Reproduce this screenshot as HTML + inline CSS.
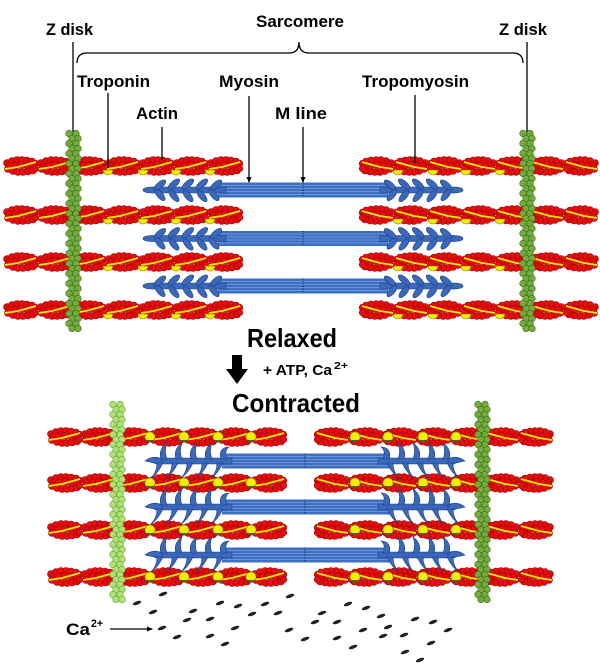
<!DOCTYPE html>
<html><head><meta charset="utf-8"><style>
html,body{margin:0;padding:0;background:#fff;}
svg{display:block;}
text{font-family:"Liberation Sans",sans-serif;font-weight:bold;fill:#000;}
</style></head><body>
<svg width="600" height="664" viewBox="0 0 600 664" xmlns="http://www.w3.org/2000/svg">
<defs>
<!-- actin segment (34 wide, centred y=0) -->
<g id="seg">
 <g fill="#e60d0d" stroke="#990000" stroke-width="0.6">
  <circle cx="3" cy="-3" r="3.5"/><circle cx="8" cy="-5" r="3.5"/><circle cx="13" cy="-6" r="3.5"/><circle cx="18" cy="-6" r="3.5"/><circle cx="23" cy="-5.5" r="3.5"/><circle cx="28" cy="-4.5" r="3.5"/><circle cx="31.5" cy="-2.5" r="3.3"/>
  <circle cx="5" cy="0" r="3.5"/><circle cx="11" cy="-0.5" r="3.5"/><circle cx="17" cy="-1" r="3.5"/><circle cx="23" cy="-0.5" r="3.5"/><circle cx="29" cy="0" r="3.5"/>
  <circle cx="4" cy="3" r="3.5"/><circle cx="9" cy="5" r="3.5"/><circle cx="14" cy="6" r="3.5"/><circle cx="19" cy="6" r="3.5"/><circle cx="24" cy="5.5" r="3.5"/><circle cx="29" cy="4.5" r="3.5"/><circle cx="31.5" cy="2.5" r="3.3"/>
 </g>
 <path d="M1,3 L14,1 L32,-4" stroke="#ffee00" stroke-width="1.7" fill="none"/>
</g>
<g id="fil">
 <use href="#seg" x="0"/><use href="#seg" x="34"/><use href="#seg" x="68"/><use href="#seg" x="102"/><use href="#seg" x="136"/><use href="#seg" x="170"/><use href="#seg" x="204"/>
</g>
<!-- Z disk bead column -->
<g id="zu">
 <circle cx="-4" cy="2.5" r="3.3"/><circle cx="3" cy="2.5" r="3.3"/>
 <circle cx="-1" cy="7.5" r="3.3"/><circle cx="5" cy="7.5" r="3.3"/>
</g>
<g id="zc">
 <use href="#zu" y="0"/><use href="#zu" y="10"/><use href="#zu" y="20"/><use href="#zu" y="30"/><use href="#zu" y="40"/>
 <use href="#zu" y="50"/><use href="#zu" y="60"/><use href="#zu" y="70"/><use href="#zu" y="80"/><use href="#zu" y="90"/>
 <use href="#zu" y="100"/><use href="#zu" y="110"/><use href="#zu" y="120"/><use href="#zu" y="130"/><use href="#zu" y="140"/>
 <use href="#zu" y="150"/><use href="#zu" y="160"/><use href="#zu" y="170"/><use href="#zu" y="180"/><use href="#zu" y="190"/>
</g>
<!-- relaxed myosin heads (left side, cy=0) -->
<g id="rh" fill="#3a68bc" stroke="#1d3f80" stroke-width="0.6">
 <path d="M145,0 L152,-3 L226,-3 L226,3 L152,3 Z"/>
 <ellipse cx="151" cy="0" rx="8" ry="3"/>
 <ellipse cx="160" cy="-5" rx="7" ry="3" transform="rotate(-40 160 -5)"/>
 <ellipse cx="174" cy="-6" rx="7" ry="3" transform="rotate(-40 174 -6)"/>
 <ellipse cx="188" cy="-6" rx="7" ry="3" transform="rotate(-40 188 -6)"/>
 <ellipse cx="202" cy="-6" rx="7" ry="3" transform="rotate(-40 202 -6)"/>
 <ellipse cx="216" cy="-5" rx="7" ry="3" transform="rotate(-40 216 -5)"/>
 <ellipse cx="160" cy="5" rx="7" ry="3" transform="rotate(50 160 5)"/>
 <ellipse cx="174" cy="6" rx="7" ry="3" transform="rotate(50 174 6)"/>
 <ellipse cx="188" cy="6" rx="7" ry="3" transform="rotate(50 188 6)"/>
 <ellipse cx="202" cy="6" rx="7" ry="3" transform="rotate(50 202 6)"/>
 <ellipse cx="214" cy="5" rx="7" ry="3" transform="rotate(50 214 5)"/>
</g>
<!-- contracted myosin heads (left side, cy=0) -->
<g id="ch" fill="#3a68bc" stroke="#1d3f80" stroke-width="0.6">
 <path d="M150,0 L156,-3 L232,-3 L232,3 L156,3 Z"/>
 <path d="M162,-2 C156,-5 150,-4 145,0 C150,1 156,3 162,2 Z"/>
 <g transform="translate(164,-2)"><path d="M-3,0 C-5,-6 -3,-12 3,-16 C1,-11 1,-5 3,0 Z"/></g>
 <g transform="translate(179,-2)"><path d="M-3,0 C-5,-6 -3,-12 3,-16 C1,-11 1,-5 3,0 Z"/></g>
 <g transform="translate(194,-2)"><path d="M-3,0 C-5,-6 -3,-12 3,-16 C1,-11 1,-5 3,0 Z"/></g>
 <g transform="translate(209,-2)"><path d="M-3,0 C-5,-6 -3,-12 3,-16 C1,-11 1,-5 3,0 Z"/></g>
 <g transform="translate(224,-2)"><path d="M-3,0 C-5,-6 -3,-12 5,-12 C1,-9 1,-5 3,0 Z"/></g>
 <g transform="translate(160,2)"><path d="M-3,0 C-3,6 -5,11 -9,15 C-4,12 0,6 3,0 Z"/></g>
 <g transform="translate(175,2)"><path d="M-3,0 C-3,6 -5,11 -9,15 C-4,12 0,6 3,0 Z"/></g>
 <g transform="translate(190,2)"><path d="M-3,0 C-3,6 -5,11 -9,15 C-4,12 0,6 3,0 Z"/></g>
 <g transform="translate(205,2)"><path d="M-3,0 C-3,6 -5,11 -9,15 C-4,12 0,6 3,0 Z"/></g>
 <g transform="translate(220,2)"><path d="M-3,0 C-3,6 -5,11 -9,15 C-4,12 0,6 3,0 Z"/></g>
</g>
<!-- contracted troponin -->
<g id="tc">
 <circle cx="0" cy="0" r="5.2" fill="#f2ee00" stroke="#6a6600" stroke-width="0.6"/>
 <path d="M-4.2,2.6 A5,5 0 0 0 4.2,2.6 Q0,4 -4.2,2.6 Z" fill="#3c3c4a"/>
</g>
<path id="tr" d="M-5,0 A5,5 0 0 0 5,0 Z" fill="#f2ee00" stroke="#7a7600" stroke-width="0.6"/>
<marker id="ar" markerWidth="6" markerHeight="6" refX="5" refY="3" orient="auto" markerUnits="userSpaceOnUse">
 <path d="M0,0.5 L6,3 L0,5.5 Z" fill="#000"/>
</marker>
</defs>

<!-- ============ RELAXED ============ -->
<use href="#fil" transform="translate(4,166)"/>
<use href="#fil" transform="translate(4,215)"/>
<use href="#fil" transform="translate(4,262)"/>
<use href="#fil" transform="translate(4,310)"/>
<use href="#fil" transform="translate(598,166) scale(-1,1)"/>
<use href="#fil" transform="translate(598,215) scale(-1,1)"/>
<use href="#fil" transform="translate(598,262) scale(-1,1)"/>
<use href="#fil" transform="translate(598,310) scale(-1,1)"/>
<!-- troponin relaxed -->
<g>
 <use href="#tr" x="108" y="170"/><use href="#tr" x="143" y="170"/><use href="#tr" x="176" y="170"/><use href="#tr" x="210" y="170"/>
 <use href="#tr" x="108" y="219"/><use href="#tr" x="143" y="219"/><use href="#tr" x="176" y="219"/><use href="#tr" x="210" y="219"/>
 <use href="#tr" x="108" y="266"/><use href="#tr" x="143" y="266"/><use href="#tr" x="176" y="266"/><use href="#tr" x="210" y="266"/>
 <use href="#tr" x="108" y="314"/><use href="#tr" x="143" y="314"/><use href="#tr" x="176" y="314"/><use href="#tr" x="210" y="314"/>
 <use href="#tr" x="398" y="170"/><use href="#tr" x="433" y="170"/><use href="#tr" x="466" y="170"/><use href="#tr" x="500" y="170"/>
 <use href="#tr" x="398" y="219"/><use href="#tr" x="433" y="219"/><use href="#tr" x="466" y="219"/><use href="#tr" x="500" y="219"/>
 <use href="#tr" x="398" y="266"/><use href="#tr" x="433" y="266"/><use href="#tr" x="466" y="266"/><use href="#tr" x="500" y="266"/>
 <use href="#tr" x="398" y="314"/><use href="#tr" x="433" y="314"/><use href="#tr" x="466" y="314"/><use href="#tr" x="500" y="314"/>
</g>
<!-- myosin relaxed -->
<g>
 <rect x="218" y="182.5" width="170" height="15" fill="#3e6fc2"/>
 <rect x="218" y="231" width="170" height="15" fill="#3e6fc2"/>
 <rect x="218" y="278.5" width="170" height="15" fill="#3e6fc2"/>
 <g stroke="#7da2e0" stroke-width="0.7">
  <line x1="218" y1="185.5" x2="388" y2="185.5"/><line x1="218" y1="188.5" x2="388" y2="188.5"/><line x1="218" y1="191.5" x2="388" y2="191.5"/><line x1="218" y1="194.5" x2="388" y2="194.5"/>
  <line x1="218" y1="234" x2="388" y2="234"/><line x1="218" y1="237" x2="388" y2="237"/><line x1="218" y1="240" x2="388" y2="240"/><line x1="218" y1="243" x2="388" y2="243"/>
  <line x1="218" y1="281.5" x2="388" y2="281.5"/><line x1="218" y1="284.5" x2="388" y2="284.5"/><line x1="218" y1="287.5" x2="388" y2="287.5"/><line x1="218" y1="290.5" x2="388" y2="290.5"/>
 </g>
 <g stroke="#000" stroke-width="0.8" stroke-dasharray="1,1.5">
  <line x1="303" y1="182.5" x2="303" y2="197.5"/><line x1="303" y1="231" x2="303" y2="246"/><line x1="303" y1="278.5" x2="303" y2="293.5"/>
 </g>
 <use href="#rh" transform="translate(0,190)"/>
 <use href="#rh" transform="translate(0,238.5)"/>
 <use href="#rh" transform="translate(0,286)"/>
 <use href="#rh" transform="translate(606,190) scale(-1,1)"/>
 <use href="#rh" transform="translate(606,238.5) scale(-1,1)"/>
 <use href="#rh" transform="translate(606,286) scale(-1,1)"/>
</g>
<!-- Z disks relaxed -->
<use href="#zc" x="73" y="131" fill="#72ad3c" stroke="#3e6a1c" stroke-width="0.6"/>
<use href="#zc" x="527" y="131" fill="#72ad3c" stroke="#3e6a1c" stroke-width="0.6"/>

<!-- labels & pointers -->
<g stroke="#000" stroke-width="1.3" fill="none">
 <path d="M77,63 Q77,53 87,53 L289,53 Q299,53 299,42 Q299,53 309,53 L513,53 Q523,53 523,63"/>
 <line x1="73" y1="42" x2="73" y2="132"/>
 <line x1="527" y1="42" x2="527" y2="132"/>
 <line x1="108" y1="93" x2="108" y2="168"/>
 <line x1="162" y1="127" x2="162" y2="160"/>
 <line x1="415" y1="95" x2="415" y2="163"/>
 <line x1="249" y1="96" x2="249" y2="182" marker-end="url(#ar)"/>
 <line x1="303" y1="127" x2="303" y2="182" marker-end="url(#ar)"/>
</g>
<text x="46" y="35" font-size="17" textLength="47" lengthAdjust="spacingAndGlyphs">Z disk</text>
<text x="256" y="27" font-size="17" textLength="88" lengthAdjust="spacingAndGlyphs">Sarcomere</text>
<text x="499" y="35" font-size="17" textLength="48" lengthAdjust="spacingAndGlyphs">Z disk</text>
<text x="77" y="87" font-size="17" textLength="73" lengthAdjust="spacingAndGlyphs">Troponin</text>
<text x="136" y="119" font-size="17" textLength="42" lengthAdjust="spacingAndGlyphs">Actin</text>
<text x="219" y="87" font-size="17" textLength="60" lengthAdjust="spacingAndGlyphs">Myosin</text>
<text x="275" y="119" font-size="17" textLength="52" lengthAdjust="spacingAndGlyphs">M line</text>
<text x="362" y="87" font-size="17" textLength="107" lengthAdjust="spacingAndGlyphs">Tropomyosin</text>

<!-- middle -->
<text x="247" y="347" font-size="26" textLength="90" lengthAdjust="spacingAndGlyphs">Relaxed</text>
<rect x="232" y="355" width="10" height="15" fill="#000"/>
<path d="M226,369 L248,369 L237,384 Z" fill="#000"/>
<text x="263" y="375" font-size="15" textLength="69" lengthAdjust="spacingAndGlyphs">+ ATP, Ca</text>
<text x="334" y="369" font-size="10" textLength="14" lengthAdjust="spacingAndGlyphs">2+</text>
<text x="232" y="412" font-size="26" textLength="128" lengthAdjust="spacingAndGlyphs">Contracted</text>

<!-- ============ CONTRACTED ============ -->
<use href="#fil" transform="translate(48,437)"/>
<use href="#fil" transform="translate(48,483)"/>
<use href="#fil" transform="translate(48,530)"/>
<use href="#fil" transform="translate(48,577)"/>
<use href="#fil" transform="translate(553,437) scale(-1,1)"/>
<use href="#fil" transform="translate(553,483) scale(-1,1)"/>
<use href="#fil" transform="translate(553,530) scale(-1,1)"/>
<use href="#fil" transform="translate(553,577) scale(-1,1)"/>
<!-- troponin contracted -->
<g>
 <use href="#tc" x="150" y="437"/><use href="#tc" x="184" y="437"/><use href="#tc" x="218" y="437"/><use href="#tc" x="251" y="437"/>
 <use href="#tc" x="150" y="483"/><use href="#tc" x="184" y="483"/><use href="#tc" x="218" y="483"/><use href="#tc" x="251" y="483"/>
 <use href="#tc" x="150" y="530"/><use href="#tc" x="184" y="530"/><use href="#tc" x="218" y="530"/><use href="#tc" x="251" y="530"/>
 <use href="#tc" x="150" y="577"/><use href="#tc" x="184" y="577"/><use href="#tc" x="218" y="577"/><use href="#tc" x="251" y="577"/>
 <use href="#tc" x="355" y="437"/><use href="#tc" x="388" y="437"/><use href="#tc" x="423" y="437"/><use href="#tc" x="456" y="437"/>
 <use href="#tc" x="355" y="483"/><use href="#tc" x="388" y="483"/><use href="#tc" x="423" y="483"/><use href="#tc" x="456" y="483"/>
 <use href="#tc" x="355" y="530"/><use href="#tc" x="388" y="530"/><use href="#tc" x="423" y="530"/><use href="#tc" x="456" y="530"/>
 <use href="#tc" x="355" y="577"/><use href="#tc" x="388" y="577"/><use href="#tc" x="423" y="577"/><use href="#tc" x="456" y="577"/>
</g>
<!-- myosin contracted -->
<g>
 <rect x="222" y="453.5" width="168" height="15" fill="#3e6fc2"/>
 <rect x="222" y="499.5" width="168" height="15" fill="#3e6fc2"/>
 <rect x="222" y="547.5" width="168" height="15" fill="#3e6fc2"/>
 <g stroke="#7da2e0" stroke-width="0.7">
  <line x1="222" y1="456.5" x2="390" y2="456.5"/><line x1="222" y1="459.5" x2="390" y2="459.5"/><line x1="222" y1="462.5" x2="390" y2="462.5"/><line x1="222" y1="465.5" x2="390" y2="465.5"/>
  <line x1="222" y1="502.5" x2="390" y2="502.5"/><line x1="222" y1="505.5" x2="390" y2="505.5"/><line x1="222" y1="508.5" x2="390" y2="508.5"/><line x1="222" y1="511.5" x2="390" y2="511.5"/>
  <line x1="222" y1="550.5" x2="390" y2="550.5"/><line x1="222" y1="553.5" x2="390" y2="553.5"/><line x1="222" y1="556.5" x2="390" y2="556.5"/><line x1="222" y1="559.5" x2="390" y2="559.5"/>
 </g>
 <g stroke="#000" stroke-width="0.8" stroke-dasharray="1,1.5">
  <line x1="305" y1="453.5" x2="305" y2="468.5"/><line x1="305" y1="499.5" x2="305" y2="514.5"/><line x1="305" y1="547.5" x2="305" y2="562.5"/>
 </g>
 <use href="#ch" transform="translate(0,461)"/>
 <use href="#ch" transform="translate(0,507)"/>
 <use href="#ch" transform="translate(0,555)"/>
 <use href="#ch" transform="translate(610,461) scale(-1,1)"/>
 <use href="#ch" transform="translate(610,507) scale(-1,1)"/>
 <use href="#ch" transform="translate(610,555) scale(-1,1)"/>
</g>
<!-- Z disks contracted -->
<use href="#zc" x="117" y="402" fill="#aee276" stroke="#6e9e3a" stroke-width="0.6"/>
<use href="#zc" x="482" y="402" fill="#72ad3c" stroke="#3e6a1c" stroke-width="0.6"/>

<!-- Ca2+ -->
<text x="66" y="635" font-size="17" textLength="24" lengthAdjust="spacingAndGlyphs">Ca</text>
<text x="91" y="627" font-size="11" textLength="12" lengthAdjust="spacingAndGlyphs">2+</text>
<line x1="110" y1="629" x2="152" y2="629" stroke="#000" stroke-width="1.2" marker-end="url(#ar)"/>
<g fill="#222">
 <ellipse cx="163" cy="594" rx="4.5" ry="1.7" transform="rotate(-20 163 594)"/>
 <ellipse cx="137" cy="603" rx="4.5" ry="1.7" transform="rotate(-20 137 603)"/>
 <ellipse cx="153" cy="612" rx="4.5" ry="1.7" transform="rotate(-20 153 612)"/>
 <ellipse cx="220" cy="603" rx="4.5" ry="1.7" transform="rotate(-20 220 603)"/>
 <ellipse cx="193" cy="611" rx="4.5" ry="1.7" transform="rotate(-20 193 611)"/>
 <ellipse cx="238" cy="606" rx="4.5" ry="1.7" transform="rotate(-20 238 606)"/>
 <ellipse cx="265" cy="604" rx="4.5" ry="1.7" transform="rotate(-20 265 604)"/>
 <ellipse cx="290" cy="596" rx="4.5" ry="1.7" transform="rotate(-20 290 596)"/>
 <ellipse cx="252" cy="614" rx="4.5" ry="1.7" transform="rotate(-20 252 614)"/>
 <ellipse cx="278" cy="613" rx="4.5" ry="1.7" transform="rotate(-20 278 613)"/>
 <ellipse cx="187" cy="620" rx="4.5" ry="1.7" transform="rotate(-20 187 620)"/>
 <ellipse cx="210" cy="619" rx="4.5" ry="1.7" transform="rotate(-20 210 619)"/>
 <ellipse cx="162" cy="628" rx="4.5" ry="1.7" transform="rotate(-20 162 628)"/>
 <ellipse cx="235" cy="628" rx="4.5" ry="1.7" transform="rotate(-20 235 628)"/>
 <ellipse cx="177" cy="637" rx="4.5" ry="1.7" transform="rotate(-20 177 637)"/>
 <ellipse cx="210" cy="636" rx="4.5" ry="1.7" transform="rotate(-20 210 636)"/>
 <ellipse cx="225" cy="644" rx="4.5" ry="1.7" transform="rotate(-20 225 644)"/>
 <ellipse cx="289" cy="630" rx="4.5" ry="1.7" transform="rotate(-20 289 630)"/>
 <ellipse cx="305" cy="639" rx="4.5" ry="1.7" transform="rotate(-20 305 639)"/>
 <ellipse cx="315" cy="622" rx="4.5" ry="1.7" transform="rotate(-20 315 622)"/>
 <ellipse cx="322" cy="613" rx="4.5" ry="1.7" transform="rotate(-20 322 613)"/>
 <ellipse cx="348" cy="604" rx="4.5" ry="1.7" transform="rotate(-20 348 604)"/>
 <ellipse cx="366" cy="608" rx="4.5" ry="1.7" transform="rotate(-20 366 608)"/>
 <ellipse cx="337" cy="622" rx="4.5" ry="1.7" transform="rotate(-20 337 622)"/>
 <ellipse cx="381" cy="616" rx="4.5" ry="1.7" transform="rotate(-20 381 616)"/>
 <ellipse cx="415" cy="619" rx="4.5" ry="1.7" transform="rotate(-20 415 619)"/>
 <ellipse cx="433" cy="622" rx="4.5" ry="1.7" transform="rotate(-20 433 622)"/>
 <ellipse cx="363" cy="630" rx="4.5" ry="1.7" transform="rotate(-20 363 630)"/>
 <ellipse cx="388" cy="627" rx="4.5" ry="1.7" transform="rotate(-20 388 627)"/>
 <ellipse cx="337" cy="638" rx="4.5" ry="1.7" transform="rotate(-20 337 638)"/>
 <ellipse cx="383" cy="636" rx="4.5" ry="1.7" transform="rotate(-20 383 636)"/>
 <ellipse cx="404" cy="635" rx="4.5" ry="1.7" transform="rotate(-20 404 635)"/>
 <ellipse cx="448" cy="630" rx="4.5" ry="1.7" transform="rotate(-20 448 630)"/>
 <ellipse cx="353" cy="647" rx="4.5" ry="1.7" transform="rotate(-20 353 647)"/>
 <ellipse cx="431" cy="643" rx="4.5" ry="1.7" transform="rotate(-20 431 643)"/>
 <ellipse cx="405" cy="652" rx="4.5" ry="1.7" transform="rotate(-20 405 652)"/>
 <ellipse cx="420" cy="660" rx="4.5" ry="1.7" transform="rotate(-20 420 660)"/>
</g>
</svg>
</body></html>
